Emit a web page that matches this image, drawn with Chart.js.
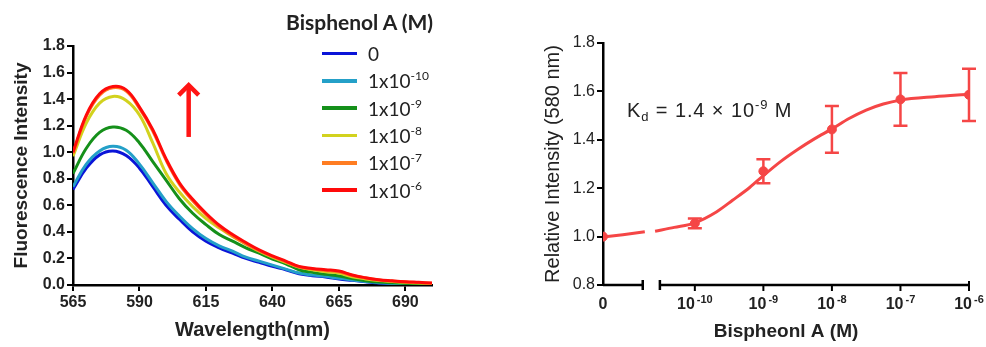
<!DOCTYPE html>
<html>
<head>
<meta charset="utf-8">
<title>Bisphenol A titration</title>
<script src="https://cdn.jsdelivr.net/npm/chart.js@4.4.0/dist/chart.umd.min.js"></script>
<style>
    html, body { margin: 0; padding: 0; background: #fff; }
    body { width: 986px; height: 347px; position: relative; overflow: hidden; font-family: "Liberation Sans", Arial, sans-serif; }
    #spectraChart { position: absolute; left: 0; top: 0; }
    #bindingChart { position: absolute; left: 510px; top: 0; }
    #legend { position: absolute; left: 286px; top: 8px; font-family: Lato, "Open Sans", sans-serif; color: #222; }
    #legend .lg-title { font-weight: bold; font-size: 21px; line-height: 28px; white-space: nowrap; }
    #legend ul { list-style: none; margin: 4px 0 0 36px; padding: 0; }
    #legend li { height: 27.3px; display: flex; align-items: center; font-size: 19px; white-space: nowrap; }
    #legend li .swatch { display: inline-block; width: 35px; height: 3.5px; margin-right: 11px; }
    #legend sup { font-size: 12px; vertical-align: 8px; line-height: 0; }
    #kd { position: absolute; left: 627px; top: 99px; font-size: 20px; letter-spacing: 0.9px; color: #222; white-space: nowrap; }
    #kd sub { font-size: 13px; vertical-align: -4px; line-height: 0; }
    #kd sup { font-size: 13px; vertical-align: 8px; line-height: 0; }
</style>
</head>
<body>
<canvas id="spectraChart" width="450" height="347"></canvas>
<canvas id="bindingChart" width="476" height="347"></canvas>
<div id="legend">
    <div class="lg-title">Bisphenol A (M)</div>
    <ul id="legendItems"></ul>
</div>
<div id="kd">K<sub>d</sub> = 1.4 &times; 10<sup>-9</sup> M</div>

<script>
// ---- Emission spectra (left panel) ----
const wavelengths = [565, 570, 575, 580, 585, 590, 595, 600, 605, 610, 615, 620, 625, 630,
    635, 640, 645, 650, 655, 660, 665, 670, 675, 680, 685, 690, 695, 700];

const intBlank = [0.72, 0.88, 0.98, 1.01, 0.975, 0.88, 0.74, 0.60, 0.495, 0.40, 0.33, 0.28, 0.24, 0.20,
    0.17, 0.14, 0.115, 0.085, 0.07, 0.06, 0.045, 0.035, 0.025, 0.015, 0.01, 0.008, 0.005, 0.005];
const intE10 = [0.74, 0.91, 1.01, 1.045, 1.015, 0.91, 0.77, 0.63, 0.52, 0.425, 0.35, 0.295, 0.255, 0.21,
    0.18, 0.15, 0.12, 0.09, 0.075, 0.065, 0.05, 0.038, 0.027, 0.017, 0.012, 0.01, 0.008, 0.005];
const intE9 = [0.84, 1.03, 1.15, 1.19, 1.165, 1.07, 0.93, 0.79, 0.65, 0.54, 0.455, 0.38, 0.33, 0.28,
    0.24, 0.195, 0.16, 0.115, 0.095, 0.08, 0.068, 0.048, 0.032, 0.022, 0.016, 0.012, 0.01, 0.008];
const intE8 = [0.97, 1.22, 1.37, 1.42, 1.39, 1.28, 1.07, 0.84, 0.70, 0.59, 0.50, 0.43, 0.365, 0.31,
    0.255, 0.21, 0.17, 0.135, 0.115, 0.10, 0.09, 0.062, 0.046, 0.033, 0.026, 0.02, 0.015, 0.01];
const intE7 = [0.99, 1.27, 1.43, 1.485, 1.46, 1.33, 1.16, 0.94, 0.76, 0.635, 0.53, 0.44, 0.37, 0.31,
    0.258, 0.214, 0.175, 0.136, 0.12, 0.11, 0.10, 0.072, 0.052, 0.038, 0.03, 0.023, 0.018, 0.013];
const intE6 = [1.00, 1.28, 1.44, 1.495, 1.47, 1.34, 1.17, 0.95, 0.77, 0.645, 0.54, 0.45, 0.38, 0.32,
    0.265, 0.22, 0.18, 0.14, 0.125, 0.115, 0.105, 0.075, 0.055, 0.04, 0.032, 0.025, 0.02, 0.015];

const concExponents = [null, -10, -9, -8, -7, -6];
const spectraSeries = [intBlank, intE10, intE9, intE8, intE7, intE6];
const spectraColors = ['#0a14d8', '#24a0c8', '#15901a', '#d2d21e', '#ff7d22', '#ff0a0a'];
const wavelengthTicks = [565, 590, 615, 640, 665, 690];

// ---- Binding curve (right panel), x in log10 of concentration ----
// the blank sits left of the axis break, on its own short segment
const bpaLogConc = [-11.34, -10, -9, -8, -7, -6];
const bpaTickExp = [null, -10, -9, -8, -7, -6];
const relIntensity = [1.0, 1.055, 1.27, 1.443, 1.567, 1.586];
const relError = [0, 0.02, 0.05, 0.097, 0.109, 0.108];

const fitLogConc = [-11.34, -11.05, -10.73, -10.65, -10.58, -10.3, -10.0, -9.68, -9.45, -9.2, -9.0,
    -8.75, -8.5, -8.25, -8.0, -7.75, -7.5, -7.25, -7.0, -6.5, -6.0];
const fitIntensity = [0.998, 1.008, 1.02, null, 1.022, 1.038, 1.057, 1.103, 1.15, 1.203, 1.252,
    1.31, 1.36, 1.405, 1.445, 1.488, 1.523, 1.548, 1.564, 1.578, 1.588];

const axisBreak = [-10.76, -10.51];

Chart.defaults.font.family = '"Liberation Sans", Arial, sans-serif';
Chart.defaults.color = '#222';

document.addEventListener('DOMContentLoaded', function () {
    buildSpectraChart();
    buildLegend();
    buildBindingChart();
});

// red arrow showing the increase with concentration
const arrowPlugin = {
    id: 'arrow',
    afterDatasetsDraw(chart) {
        const { ctx, scales } = chart;
        const x = scales.x.getPixelForValue(608.5);
        const yTop = scales.y.getPixelForValue(1.52);
        const yBottom = scales.y.getPixelForValue(1.115);
        ctx.save();
        ctx.strokeStyle = '#ff1414';
        ctx.lineWidth = 4.5;
        ctx.lineCap = 'butt';
        ctx.beginPath();
        ctx.moveTo(x, yBottom);
        ctx.lineTo(x, yTop + 2);
        ctx.stroke();
        ctx.lineJoin = 'miter';
        ctx.beginPath();
        ctx.moveTo(x - 10, yTop + 12);
        ctx.lineTo(x, yTop + 2);
        ctx.lineTo(x + 10, yTop + 12);
        ctx.stroke();
        ctx.restore();
    }
};

function buildSpectraChart() {
    const ctx = document.getElementById('spectraChart');
    const datasets = spectraSeries.map((series, i) => ({
        label: concExponents[i] === null ? '0' : '1x10^' + concExponents[i],
        data: series.map((v, j) => ({ x: wavelengths[j], y: v })),
        borderColor: spectraColors[i],
        borderWidth: 3,
        pointRadius: 0,
        tension: 0.4,
        order: spectraSeries.length - i
    }));

    new Chart(ctx, {
        type: 'line',
        data: { datasets: datasets },
        options: {
            responsive: false,
            animation: false,
            layout: { padding: { top: 46, right: 18, bottom: 0, left: 0 } },
            plugins: { legend: { display: false }, tooltip: { enabled: false } },
            scales: {
                x: {
                    type: 'linear',
                    min: 565,
                    max: 700,
                    afterBuildTicks: function (scale) {
                        scale.ticks = wavelengthTicks.map(v => ({ value: v }));
                    },
                    afterFit: function (scale) { scale.height = 62; },
                    grid: { drawOnChartArea: false, drawTicks: true, tickLength: 6, color: '#000', lineWidth: 2 },
                    border: { color: '#000', width: 2.5 },
                    ticks: { font: { size: 16, weight: 'bold' }, color: '#222', padding: 2, maxRotation: 0 },
                    title: {
                        display: true,
                        text: 'Wavelength(nm)',
                        font: { size: 20, weight: 'bold' },
                        color: '#222',
                        padding: { top: 0, bottom: 5 }
                    }
                },
                y: {
                    min: 0,
                    max: 1.8,
                    afterFit: function (scale) { scale.width = 73; },
                    grid: { drawOnChartArea: false, drawTicks: true, tickLength: 6, color: '#000', lineWidth: 2 },
                    border: { color: '#000', width: 2.5 },
                    ticks: {
                        stepSize: 0.2,
                        font: { size: 16, weight: 'bold' },
                        color: '#222',
                        padding: 2,
                        callback: function (value) { return value.toFixed(1); }
                    },
                    title: {
                        display: true,
                        text: 'Fluorescence Intensity',
                        font: { size: 19, weight: 'bold' },
                        color: '#222',
                        padding: { top: 10, bottom: 0 }
                    }
                }
            }
        },
        plugins: [arrowPlugin]
    });
}

// HTML legend so the exponents can be real superscripts
function buildLegend() {
    const list = document.getElementById('legendItems');
    concExponents.forEach((exp, i) => {
        const li = document.createElement('li');
        const swatch = document.createElement('span');
        swatch.className = 'swatch';
        swatch.style.background = spectraColors[i];
        li.appendChild(swatch);
        const label = document.createElement('span');
        label.innerHTML = exp === null ? '0' : '1x10<sup>' + exp + '</sup>';
        li.appendChild(label);
        list.appendChild(li);
    });
}

// error bars, broken x axis and power-of-ten tick labels
const bindingPlugin = {
    id: 'binding',
    afterDatasetsDraw(chart) {
        const { ctx, scales } = chart;
        const xs = scales.x, ys = scales.y;
        ctx.save();
        ctx.strokeStyle = '#f54646';
        ctx.lineWidth = 2.5;
        bpaLogConc.forEach((c, i) => {
            if (!relError[i]) return;
            const x = xs.getPixelForValue(c);
            const top = ys.getPixelForValue(relIntensity[i] + relError[i]);
            const bottom = ys.getPixelForValue(relIntensity[i] - relError[i]);
            ctx.beginPath();
            ctx.moveTo(x, top); ctx.lineTo(x, bottom);
            ctx.moveTo(x - 7, top); ctx.lineTo(x + 7, top);
            ctx.moveTo(x - 7, bottom); ctx.lineTo(x + 7, bottom);
            ctx.stroke();
        });
        ctx.restore();
    },
    afterDraw(chart) {
        const { ctx, scales } = chart;
        const xs = scales.x;
        const y0 = scales.y.getPixelForValue(0.8);
        const left = xs.getPixelForValue(bpaLogConc[0]);
        const b1 = xs.getPixelForValue(axisBreak[0]);
        const b2 = xs.getPixelForValue(axisBreak[1]);
        const right = xs.getPixelForValue(bpaLogConc[bpaLogConc.length - 1]);

        ctx.save();
        ctx.strokeStyle = '#000';
        ctx.lineWidth = 2.5;
        ctx.beginPath();
        ctx.moveTo(left, y0); ctx.lineTo(b1, y0);
        ctx.moveTo(b1, y0 - 5); ctx.lineTo(b1, y0 + 5);
        ctx.moveTo(b2, y0 - 5); ctx.lineTo(b2, y0 + 5);
        ctx.moveTo(b2, y0); ctx.lineTo(right, y0);
        ctx.stroke();
        ctx.lineWidth = 2;
        ctx.beginPath();
        bpaLogConc.slice(1).forEach(c => {
            const x = xs.getPixelForValue(c);
            ctx.moveTo(x, y0); ctx.lineTo(x, y0 + 6);
        });
        ctx.moveTo(right, y0 - 4); ctx.lineTo(right, y0);
        ctx.stroke();

        // tick labels
        ctx.fillStyle = '#222';
        ctx.textBaseline = 'alphabetic';
        const base = y0 + 24;
        const bigFont = 'bold 16px "Liberation Sans", Arial, sans-serif';
        const smallFont = 'bold 11px "Liberation Sans", Arial, sans-serif';
        bpaLogConc.forEach((c, i) => {
            const x = xs.getPixelForValue(c);
            const exp = bpaTickExp[i];
            ctx.font = bigFont;
            if (exp === null) {
                ctx.textAlign = 'center';
                ctx.fillText('0', x, base);
                return;
            }
            const w1 = ctx.measureText('10').width;
            ctx.font = smallFont;
            const expText = String(exp);
            const w2 = ctx.measureText(expText).width;
            const start = x - (w1 + w2 + 2) / 2;
            ctx.textAlign = 'left';
            ctx.font = bigFont;
            ctx.fillText('10', start, base);
            ctx.font = smallFont;
            ctx.fillText(expText, start + w1 + 2, base - 6);
        });
        ctx.restore();
    }
};

function buildBindingChart() {
    const ctx = document.getElementById('bindingChart');
    new Chart(ctx, {
        type: 'line',
        data: {
            datasets: [{
                label: 'Fit',
                data: fitLogConc.map((c, i) => ({ x: c, y: fitIntensity[i] })),
                borderColor: '#f54646',
                borderWidth: 3,
                pointRadius: 0,
                spanGaps: false,
                cubicInterpolationMode: 'monotone'
            }, {
                label: 'Bisphenol A',
                data: bpaLogConc.map((c, i) => ({ x: c, y: relIntensity[i] })),
                showLine: false,
                pointRadius: 4.5,
                pointBackgroundColor: '#f54646',
                pointBorderColor: '#f54646',
                borderColor: '#f54646'
            }]
        },
        options: {
            responsive: false,
            animation: false,
            layout: { padding: { top: 43, right: 17, bottom: 0, left: 0 } },
            plugins: { legend: { display: false }, tooltip: { enabled: false } },
            scales: {
                x: {
                    type: 'linear',
                    min: bpaLogConc[0],
                    max: bpaLogConc[bpaLogConc.length - 1],
                    afterFit: function (scale) { scale.height = 62; },
                    grid: { display: false },
                    border: { display: false },
                    ticks: { display: false },
                    title: {
                        display: true,
                        text: 'Bispheonl A (M)',
                        font: { size: 19, weight: 'bold' },
                        color: '#222',
                        padding: { top: 0, bottom: 4 }
                    }
                },
                y: {
                    min: 0.8,
                    max: 1.8,
                    afterFit: function (scale) { scale.width = 93; },
                    grid: { drawOnChartArea: false, drawTicks: true, tickLength: 6, color: '#000', lineWidth: 2 },
                    border: { color: '#000', width: 2.5 },
                    ticks: {
                        stepSize: 0.2,
                        font: { size: 16 },
                        color: '#222',
                        padding: 2,
                        callback: function (value) { return value.toFixed(1); }
                    },
                    title: {
                        display: true,
                        text: 'Relative Intensity (580 nm)',
                        font: { size: 20 },
                        color: '#222',
                        padding: { top: 31, bottom: 0 }
                    }
                }
            }
        },
        plugins: [bindingPlugin]
    });
}
</script>
</body>
</html>
